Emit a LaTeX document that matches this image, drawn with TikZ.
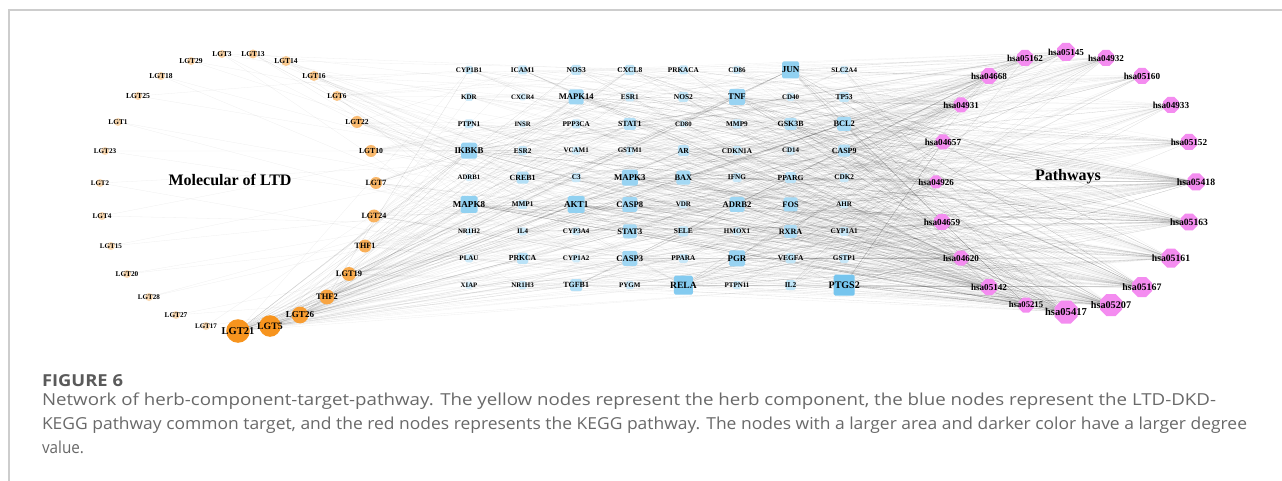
\documentclass[tikz,border=0pt]{standalone}
\usepackage{graphicx}
\usepackage{fontspec}
\setmainfont{Liberation Serif}
\newfontfamily\capfont{Open Sans}
\usetikzlibrary{shapes.geometric,backgrounds}

\definecolor{orgD}{RGB}{247,148,30}
\definecolor{orgL}{RGB}{252,226,196}
\definecolor{bluD}{RGB}{118,197,238}
\definecolor{bluL}{RGB}{212,237,250}
\definecolor{pwcol}{RGB}{244,140,240}
\definecolor{capgray}{RGB}{105,105,105}
\definecolor{figgray}{RGB}{90,90,90}
\definecolor{framegray}{RGB}{205,205,205}

\pgfdeclarelayer{paper}
\pgfsetlayers{paper,background,main}

\tikzset{
  every node/.style={inner sep=0pt, outer sep=0pt},
  cpd/.style={circle, minimum size=#1},
  tgt/.style={rectangle, rounded corners=1.6pt, minimum size=#1},
  pwy/.style={regular polygon, regular polygon sides=8, minimum size=#1, fill=pwcol},
  lbl/.style={font=\bfseries\fontsize{#1}{#1}\selectfont, text=black},
  edge/.style={draw=black, draw opacity=0.062, line width=0.3pt},
  grouptitle/.style={font=\bfseries\fontsize{16}{16}\selectfont, text=black},
  capline/.style={font=\capfont\fontsize{16.5}{16.5}\selectfont, text=capgray, anchor=base west},
}

\begin{document}
\begin{tikzpicture}[x=1pt, y=-1pt]
\useasboundingbox (0,0) rectangle (1282,481);
\begin{pgfonlayer}{paper}
  \fill[white] (0,0) rectangle (1282,481);
\end{pgfonlayer}

% frame of the figure panel
\draw[framegray, line width=1.2pt] (9,481) -- (9,10) -- (1282,10);

% ---- herb components (circles) : id/x/y/radius/shade/font/label
\foreach \n/\x/\y/\r/\p/\f/\t in {
  1/222/54/4/18/7.4/LGT3, 2/253/54/4.5/28/7.5/LGT13, 3/191/61/4/15/7.5/LGT29,
  4/286/61/5/30/7.5/LGT14, 5/161/76/4/15/7.5/LGT18, 6/314/76/5/35/7.5/LGT16,
  7/138/96/4/15/7.7/LGT25, 8/337/96/5/38/7.3/LGT6, 9/118/122/4/12/7.3/LGT1,
  10/357/122/6/50/7.5/LGT22, 11/105/151/4/10/7.2/LGT23, 12/371/151/6/52/7.7/LGT10,
  13/100/183/4/10/7.0/LGT2, 14/376/183/6/56/8.0/LGT7, 15/102/216/4/10/7.2/LGT4,
  16/374/216/6.5/60/8.0/LGT24, 17/111/246/4/10/7.1/LGT15, 18/365/246/6.5/65/8.1/THF1,
  19/127/274/4/10/7.3/LGT20, 20/349/274/7/72/8.4/LGT19, 21/149/297/4/10/7.1/LGT28,
  22/327/297/7.5/78/8.5/THF2, 23/176/315/4/10/7.3/LGT27, 24/300/315/8.4/88/9.1/LGT26,
  25/206/326/4/10/7.0/LGT17, 26/238/331/11.8/100/10.5/LGT21, 27/270/326/10.8/100/9.8/LGT5}
{
  \node[cpd={2*\r}, fill=orgD!\p!orgL] (l\n) at (\x,\y) {};
  \node[lbl=\f] (ll\n) at (l\n) {\t};
}

% ---- common targets (rounded squares), 8 columns x 9 rows : id/size/label
\foreach \n/\s/\t in {
  1/8/CYP1B1, 2/9/ICAM1, 3/10/NOS3, 4/10/CXCL8, 5/9/PRKACA, 6/8/CD86, 7/17/JUN, 8/8/SLC2A4,
  9/8/KDR, 10/7/CXCR4, 11/15/MAPK14, 12/9/ESR1, 13/10/NOS2, 14/16/TNF, 15/8/CD40, 16/10/TP53,
  17/9/PTPN1, 18/7/INSR, 19/9/PPP3CA, 20/12/STAT1, 21/7/CD80, 22/9/MMP9, 23/12/GSK3B, 24/14/BCL2,
  25/16/IKBKB, 26/9/ESR2, 27/8/VCAM1, 28/8/GSTM1, 29/11/AR, 30/9/CDKN1A, 31/8/CD14, 32/12/CASP9,
  33/7/ADRB1, 34/12/CREB1, 35/9/C3, 36/16/MAPK3, 37/14/BAX, 38/9/IFNG, 39/11/PPARG, 40/9/CDK2,
  41/17/MAPK8, 42/9/MMP1, 43/17/AKT1, 44/15/CASP8, 45/8/VDR, 46/15/ADRB2, 47/14/FOS, 48/8/AHR,
  49/7/NR1H2, 50/8/IL4, 51/8/CYP3A4, 52/14/STAT3, 53/10/SELE, 54/8/HMOX1, 55/13/RXRA, 56/9/CYP1A1,
  57/8/PLAU, 58/11/PRKCA, 59/8/CYP1A2, 60/15/CASP3, 61/9/PPARA, 62/16/PGR, 63/10/VEGFA, 64/9/GSTP1,
  65/7/XIAP, 66/8/NR1H3, 67/12/TGFB1, 68/8/PYGM, 69/19/RELA, 70/8/PTPN11, 71/10/IL2, 72/21/PTGS2}
{
  \pgfmathtruncatemacro\col{mod(\n-1,8)}
  \pgfmathtruncatemacro\row{int((\n-1)/8)}
  \pgfmathsetmacro\x{469+53.6*\col}
  \pgfmathsetmacro\y{70+26.9*\row}
  \pgfmathtruncatemacro\p{min(100,max(0,(\s-7)*100/14))}
  \pgfmathsetmacro\f{7.0+(\s-8)*0.23}
  \expandafter\xdef\csname tsz\n\endcsname{\s}
  \node[tgt=\s, fill=bluD!\p!bluL] (t\n) at (\x,\y) {};
  \node[lbl=\f] (tl\n) at (t\n) {\t};
}

% ---- KEGG pathways (octagons) : id/x/y/width/font/label
\foreach \n/\x/\y/\w/\f/\t in {
  1/1066/52/18/9.1/hsa05145, 2/1025/58/16/9.1/hsa05162, 3/1106/58/16/9.1/hsa04932,
  4/989/76/16/9.1/hsa04668, 5/1142/76/16/9.2/hsa05160, 6/961/105/15/9.0/hsa04931,
  7/1171/105/16/9.2/hsa04933, 8/943/142/15/9.2/hsa04657, 9/1189/142/16/9.2/hsa05152,
  10/936/182/13/9.0/hsa04926, 11/1196/182/17/9.7/hsa05418, 12/942/222/16/9.2/hsa04659,
  13/1189/222/17/9.6/hsa05163, 14/961/258/15/9.1/hsa04620, 15/1171/258/19/9.7/hsa05161,
  16/989/287/16/9.1/hsa05142, 17/1142/287/20/9.9/hsa05167, 18/1026/305/15/8.7/hsa05215,
  19/1111/305/22/10.2/hsa05207, 20/1066/312/23/10.6/hsa05417}
{
  \node[pwy={1.0824*\w}] (p\n) at (\x,\y) {};
  \node[lbl=\f] (pl\n) at (p\n) {\t};
}

% ---- group titles
\node[grouptitle] (ttlL) at (230,180) {Molecular of LTD};
\node[grouptitle] (ttlR) at (1068,177) {Pathways};

% ---- interactions, kept behind the nodes
\pgfmathsetseed{20231}
\def\pwpick{{1,2,3,4,5,6,7,8,9,10,11,12,13,14,15,16,17,18,19,20,20,19,17,15,13,11}}
\begin{pgfonlayer}{background}
  % component -> target
  \foreach \i/\d in {1/4,2/5,3/2,4/6,5/2,6/8,7/2,8/9,9/2,10/12,11/2,12/13,13/2,14/14,
                     15/2,16/16,17/2,18/17,19/2,20/20,21/2,22/24,23/2,24/28,25/2,26/48,27/42}
  {
    \foreach \k in {1,...,\d} {
      \pgfmathrandominteger{\ra}{1}{72}
      \pgfmathrandominteger{\rb}{1}{72}
      \pgfmathtruncatemacro\rt{\csname tsz\ra\endcsname >= \csname tsz\rb\endcsname ? \ra : \rb}
      \draw[edge] (l\i) -- (t\rt);
    }
  }
  % target -> pathway
  \foreach \j in {1,...,72} {
    \pgfmathtruncatemacro\m{round((\csname tsz\j\endcsname-4.5)*2.2)}
    \foreach \k in {1,...,\m} {
      \pgfmathrandominteger{\rr}{0}{25}
      \pgfmathtruncatemacro\pp{\pwpick[\rr]}
      \draw[edge] (t\j) -- (p\pp);
    }
  }
\end{pgfonlayer}

% ---- caption
\node[capline, font=\capfont\bfseries\fontsize{16.5}{16.5}\selectfont, text=figgray] (cap0) at (42,386)
  {\resizebox{81pt}{\height}{FIGURE 6}};
\node[capline] (cap1) at (42,405)
  {\resizebox{1174pt}{\height}{Network of herb-component-target-pathway. The yellow nodes represent the herb component, the blue nodes represent the LTD-DKD-}};
\node[capline] (cap2) at (42,429)
  {\resizebox{1205pt}{\height}{KEGG pathway common target, and the red nodes represents the KEGG pathway. The nodes with a larger area and darker color have a larger degree}};
\node[capline] (cap3) at (42,453) {\resizebox{42pt}{\height}{value.}};
\end{tikzpicture}
\end{document}
